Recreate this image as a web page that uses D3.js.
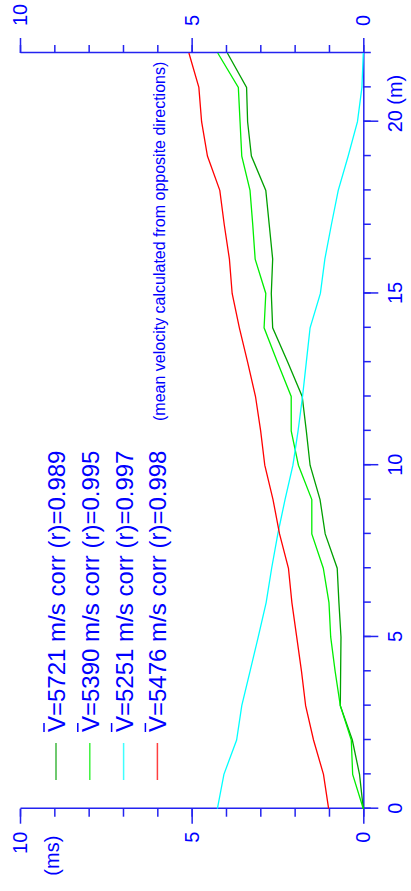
<!DOCTYPE html>
<html>
<head>
<meta charset="utf-8">
<script src="https://cdn.jsdelivr.net/npm/d3@7"></script>
<style>
  html, body { margin: 0; padding: 0; background: #fff; }
  text { font-family: "Liberation Sans", Arial, sans-serif; fill: #0000ff; }
  .axis path, .axis line { stroke: #2323f0; stroke-width: 1.5; }
</style>
</head>
<body>
<div id="chart"></div>
<script>
// distance along the profile (m)
var distance = [0, 1, 2, 3, 4, 5, 6, 7, 8, 9, 10, 11, 12, 13, 14, 15, 16, 17, 18, 19, 20, 21, 22];

// travel times (ms), one array per shot
var time5721 = [0, 0.11, 0.32, 0.67, 0.66, 0.65, 0.71, 0.76, 1.11, 1.26, 1.55, 1.66, 1.78, 2.2, 2.64, 2.68, 2.64, 2.74, 2.84, 3.26, 3.37, 3.40, 3.96];
var time5390 = [0, 0.31, 0.35, 0.67, 0.82, 0.95, 1.0, 1.165, 1.50, 1.50, 1.89, 2.10, 2.10, 2.50, 2.89, 2.84, 3.15, 3.22, 3.30, 3.54, 3.59, 3.64, 4.24];
var time5251 = [4.25, 4.06, 3.69, 3.54, 3.30, 3.06, 2.83, 2.67, 2.49, 2.28, 2.05, 1.90, 1.77, 1.66, 1.55, 1.25, 1.12, 0.93, 0.73, 0.44, 0.17, 0.04, 0];
var time5476 = [1.01, 1.16, 1.45, 1.68, 1.80, 1.94, 2.08, 2.18, 2.44, 2.63, 2.87, 2.99, 3.14, 3.37, 3.61, 3.82, 3.90, 4.05, 4.18, 4.54, 4.71, 4.79, 5.08];

var seriesNames = ["=5721 m/s corr (r)=0.989", "=5390 m/s corr (r)=0.995", "=5251 m/s corr (r)=0.997", "=5476 m/s corr (r)=0.998"];
var seriesColors = ["#00a000", "#00ee00", "#00ffff", "#ff0000"];

var mTicks = [0, 1, 2, 3, 4, 5, 6, 7, 8, 9, 10, 11, 12, 13, 14, 15, 16, 17, 18, 19, 20, 21, 22];
var mLabels = [0, 5, 10, 15, 20];
var msTicks = [0, 1, 2, 3, 4, 5, 6, 7, 8, 9, 10];
var msLabels = [0, 5, 10];

(function () {
    var W = 411, H = 891;

    var svg = d3.select("#chart")
        .append("svg")
        .attr("width", W)
        .attr("height", H);

    // the plot is drawn the normal way and turned a quarter turn to the left
    var g = svg.append("g")
        .attr("transform", "translate(0," + H + ") rotate(-90)");

    var x = d3.scaleLinear().domain([0, 22]).range([82.3, 838]);
    var y = d3.scaleLinear().domain([0, 10]).range([363.3, 20]);

    // distance axis (right side of the page)
    g.append("g")
        .attr("class", "axis")
        .attr("transform", "translate(0," + y(0) + ")")
        .call(d3.axisBottom(x).tickValues(mTicks).tickSize(7.5).tickSizeOuter(0).tickFormat(""));
    var mAx = g.append("g")
        .attr("class", "axis")
        .attr("transform", "translate(0," + y(0) + ")")
        .call(d3.axisBottom(x).tickValues(mLabels).tickSize(15).tickPadding(10).tickFormat(d3.format("d")));
    mAx.select(".domain").remove();
    mAx.selectAll("text").style("font-size", "20px");
    g.append("text")
        .attr("x", x(20) + 17)
        .attr("y", y(0) + 39)
        .style("font-size", "20px")
        .text("(m)");

    // time axis (bottom of the page)
    g.append("g")
        .attr("class", "axis")
        .attr("transform", "translate(" + x(0) + ",0)")
        .call(d3.axisLeft(y).tickValues(msTicks).tickSize(8).tickSizeOuter(0).tickFormat(""));
    var tAx = g.append("g")
        .attr("class", "axis")
        .attr("transform", "translate(" + x(0) + ",0)")
        .call(d3.axisLeft(y).tickValues(msLabels).tickSize(15).tickPadding(8).tickFormat(d3.format("d")));
    tAx.select(".domain").remove();
    tAx.selectAll("text").style("font-size", "20px");
    g.append("text")
        .attr("x", x(0) - 27)
        .attr("y", 59)
        .attr("text-anchor", "end")
        .style("font-size", "20px")
        .text("(ms)");

    // time axis again (top of the page)
    g.append("g")
        .attr("class", "axis")
        .attr("transform", "translate(" + x(22) + ",0)")
        .call(d3.axisRight(y).tickValues(msTicks).tickSize(8).tickSizeOuter(0).tickFormat(""));
    var tAx2 = g.append("g")
        .attr("class", "axis")
        .attr("transform", "translate(" + x(22) + ",0)")
        .call(d3.axisRight(y).tickValues(msLabels).tickSize(15).tickPadding(12).tickFormat(d3.format("d")));
    tAx2.select(".domain").remove();
    tAx2.selectAll("text").style("font-size", "20px");

    // travel time curves
    var allTimes = [time5721, time5390, time5251, time5476];
    var line = d3.line()
        .x(function (d, i) { return x(distance[i]); })
        .y(function (d) { return y(d); });

    g.selectAll(".curve")
        .data(allTimes)
        .enter()
        .append("path")
        .attr("class", "curve")
        .attr("d", line)
        .attr("fill", "none")
        .attr("stroke", function (d, i) { return seriesColors[i]; })
        .attr("stroke-width", 1.3);

    // legend
    var leg = g.selectAll(".leg")
        .data(seriesNames)
        .enter()
        .append("g")
        .attr("class", "leg")
        .attr("transform", function (d, i) { return "translate(0," + (i * 33.8) + ")"; });

    leg.append("line")
        .attr("x1", 111).attr("x2", 148)
        .attr("y1", 56).attr("y2", 56)
        .attr("stroke", function (d, i) { return seriesColors[i]; })
        .attr("stroke-width", 1.5)
        .attr("opacity", 0.75);
    leg.append("line")
        .attr("x1", 159).attr("x2", 168)
        .attr("y1", 44).attr("y2", 44)
        .attr("stroke", "#0000ff")
        .attr("stroke-width", 1.5);
    leg.append("text")
        .attr("x", 159)
        .attr("y", 65)
        .style("font-size", "24px")
        .text(function (d) { return "V" + d; });

    g.append("text")
        .attr("x", 470)
        .attr("y", 165)
        .style("font-size", "16px")
        .text("(mean velocity calculated from opposite directions)");
})();
</script>
</body>
</html>
